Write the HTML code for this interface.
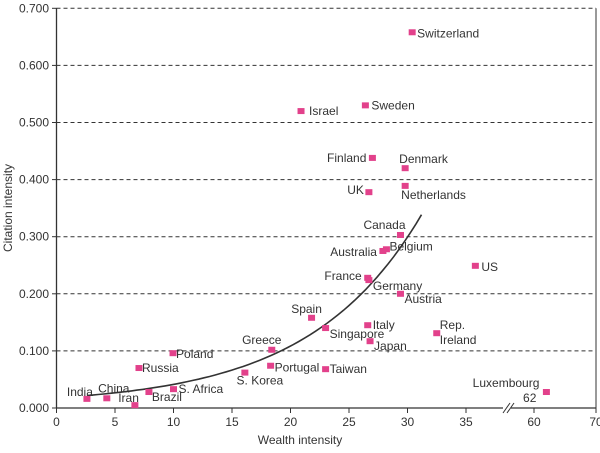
<!DOCTYPE html>
<html><head><meta charset="utf-8"><style>
html,body{margin:0;padding:0;background:#fff;}
svg{display:block;font-family:"Liberation Sans",sans-serif;}
</style></head><body>
<svg id="chart" width="600" height="453" viewBox="0 0 600 453" xmlns="http://www.w3.org/2000/svg">
<g id="grid"></g><g id="axes"></g><g id="curve"></g><g id="points"></g><g id="labels"></g>
<text x="12" y="208" font-size="12" fill="#333" text-anchor="middle" transform="rotate(-90 12 208)">Citation intensity</text>
<text x="300" y="444" font-size="12" fill="#333" text-anchor="middle">Wealth intensity</text>
</svg>
<script>
const countries=["Switzerland","Israel","Sweden","Finland","Denmark","UK","Netherlands","Canada","Australia","Belgium","US","France","Germany","Austria","Spain","Singapore","Italy","Japan","Rep. Ireland","Greece","Portugal","Taiwan","S. Korea","India","China","Iran","Brazil","Russia","Poland","S. Africa","Luxembourg"];
const wealth=[30.4,20.9,26.4,27.0,29.8,26.7,29.8,29.4,27.9,28.2,35.8,26.6,26.7,29.4,21.8,23.0,26.6,26.8,32.5,18.4,18.3,23.0,16.1,2.6,4.3,6.7,7.9,7.05,9.96,10.0,62];
const citation=[0.658,0.520,0.530,0.438,0.420,0.378,0.389,0.303,0.275,0.278,0.249,0.228,0.224,0.200,0.158,0.140,0.145,0.117,0.131,0.102,0.074,0.068,0.062,0.016,0.017,0.005,0.028,0.070,0.096,0.033,0.028];
const yTicks=[0,0.1,0.2,0.3,0.4,0.5,0.6,0.7];
const xTicks=[0,5,10,15,20,25,30,35,60,70];
const labelLines=[["Switzerland"],["Israel"],["Sweden"],["Finland"],["Denmark"],["UK"],["Netherlands"],["Canada"],["Australia"],["Belgium"],["US"],["France"],["Germany"],["Austria"],["Spain"],["Singapore"],["Italy"],["Japan"],["Rep.","Ireland"],["Greece"],["Portugal"],["Taiwan"],["S. Korea"],["India"],["China"],["Iran"],["Brazil"],["Russia"],["Poland"],["S. Africa"],["Luxembourg","62"]];
// label placement: [anchor, dx, dy] relative to point
const labelPlace=[["start",5,5],["start",8,4],["start",6,4],["end",-6,4],["start",-6,-5],["end",-5,2],["start",-4,13],["middle",-16,-6],["end",-6,5],["start",3,1],["start",6,5],["end",-6,2],["start",4,10],["start",4,9],["middle",-5,-5],["start",4,10],["start",5,4],["start",4,9],["start",3,-4],["middle",-10,-6],["start",4,6],["start",4,4],["middle",15,12],["end",6,-3],["middle",7,-6],["end",4,-3],["start",3,9],["start",3,4],["start",3,5],["start",5,4],["end",-7,-5]];
const fitA=0.0128, fitB=0.1045, fitFrom=2.6, fitTo=31.2;

const NS="http://www.w3.org/2000/svg";
function X(v){ if(v<=40) return 56.5+v*11.7; return 534+(v-60)*6.2; }
function Y(v){ return 408-v*571; }
function mk(tag,attrs,parent,txt){const e=document.createElementNS(NS,tag);for(const k in attrs)e.setAttribute(k,attrs[k]);if(txt!==undefined)e.textContent=txt;parent.appendChild(e);return e;}
const grid=document.getElementById('grid'),axes=document.getElementById('axes');
yTicks.forEach(t=>{
  if(t>0){const g=mk('line',{x1:56.5,x2:596,y1:Y(t),y2:Y(t),stroke:'#333','stroke-width':1,'stroke-dasharray':'4,3'},grid);
  
  }
  mk('line',{x1:52,x2:56.5,y1:Y(t),y2:Y(t),stroke:'#333'},axes);
  const l=mk('text',{x:49,y:Y(t)+4,'font-size':12,fill:'#333','text-anchor':'end'},axes,t.toFixed(3));
  
  
});
const ya=mk('line',{x1:56.5,x2:56.5,y1:Y(0.7),y2:408,stroke:'#333','stroke-width':1.3},axes);


const xa1=mk('line',{x1:56.5,x2:503,y1:408,y2:408,stroke:'#333','stroke-width':1.3},axes);


mk('line',{x1:511,x2:596,y1:408,y2:408,stroke:'#333','stroke-width':1.3},axes);
mk('line',{x1:503,y1:413,x2:510,y2:403,stroke:'#333'},axes);
mk('line',{x1:507,y1:413,x2:514,y2:403,stroke:'#333'},axes);
mk('line',{x1:596,x2:596,y1:Y(0.7),y2:408,stroke:'#333','stroke-width':1},axes);
xTicks.forEach(t=>{
  mk('line',{x1:X(t),x2:X(t),y1:408,y2:413,stroke:'#333'},axes);
  const l=mk('text',{x:X(t),y:426,'font-size':12,fill:'#333','text-anchor':'middle'},axes,String(t));
  
  
});
let d='';
for(let i=0;i<=60;i++){const v=fitFrom+(fitTo-fitFrom)*i/60;d+=(i?'L':'M')+X(v).toFixed(1)+','+Y(fitA*Math.exp(fitB*v)+0.005).toFixed(1);}
const c=mk('path',{d:d,fill:'none',stroke:'#333','stroke-width':1.6},document.getElementById('curve'));


const pts=document.getElementById('points'),labs=document.getElementById('labels');
countries.forEach((n,i)=>{
  const px=X(wealth[i]),py=Y(citation[i]);
  const r=mk('rect',{x:px-3.5,y:py-3,width:7,height:6,fill:'#e2418b'},pts);
  
  
  const p=labelPlace[i];
  labelLines[i].forEach((s,j)=>{
    let dx=p[1],dy=p[2]+j*15,an=p[0];
    if(n==="Luxembourg"&&j===1){dx=-10;dy=10;}
    const t=mk('text',{x:px+dx,y:py+dy,'font-size':12,fill:'#333','text-anchor':an},labs,s);
    
    
  });
});
</script>
</body></html>
